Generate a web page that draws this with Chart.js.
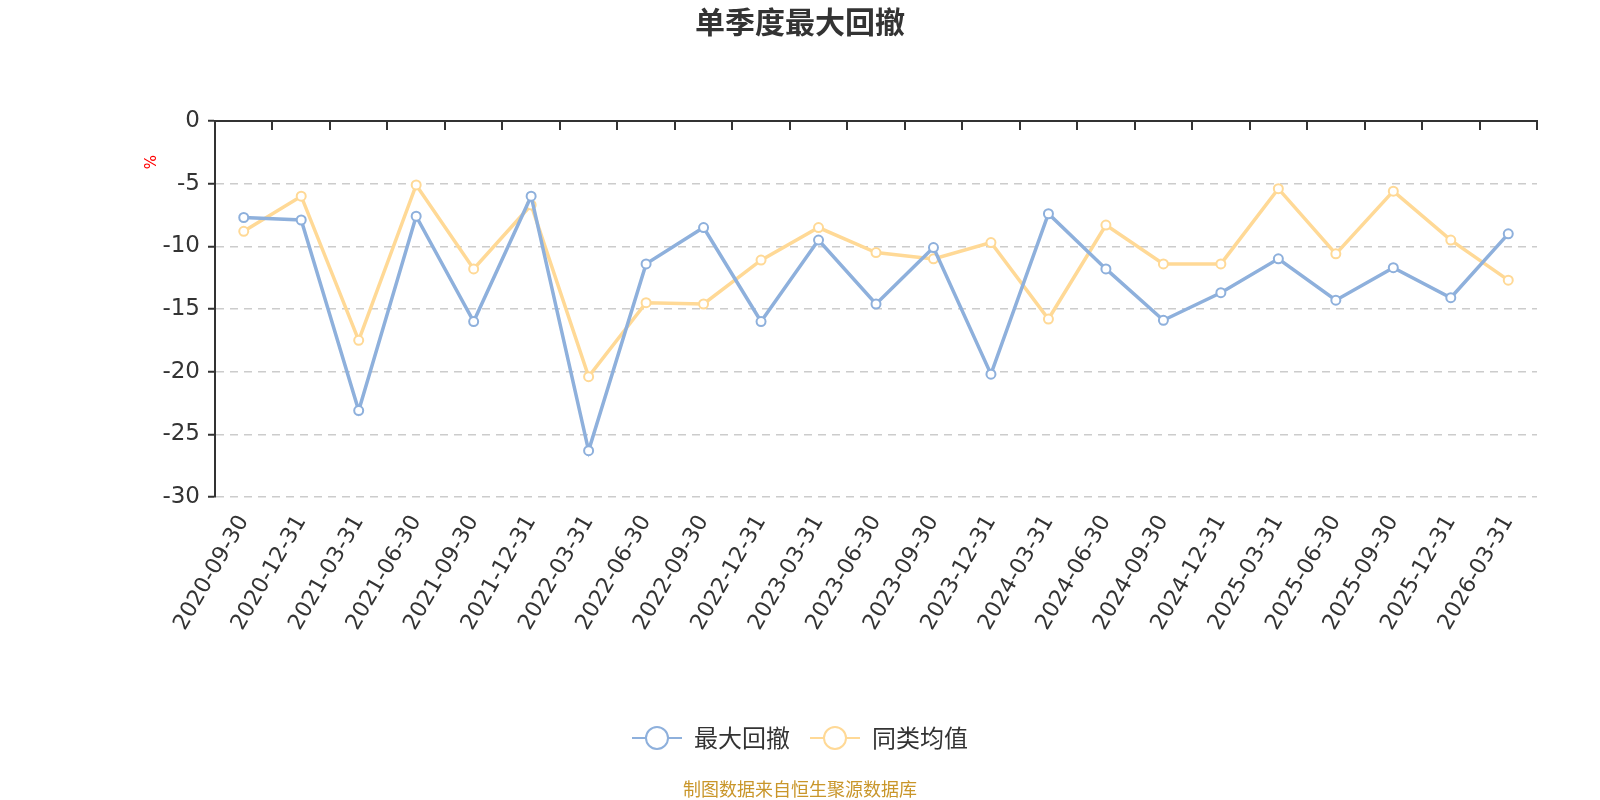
<!DOCTYPE html>
<html>
<head>
<meta charset="utf-8">
<title>单季度最大回撤</title>
<script src="https://cdn.jsdelivr.net/npm/chart.js@4.4.1/dist/chart.umd.min.js"></script>
<style>
    html, body { margin: 0; padding: 0; background: #fff; }
</style>
</head>
<body>
<canvas id="chart" width="1600" height="800"></canvas>
<script>
const quarters = [
    '2020-09-30', '2020-12-31', '2021-03-31', '2021-06-30', '2021-09-30', '2021-12-31',
    '2022-03-31', '2022-06-30', '2022-09-30', '2022-12-31', '2023-03-31', '2023-06-30',
    '2023-09-30', '2023-12-31', '2024-03-31', '2024-06-30', '2024-09-30', '2024-12-31',
    '2025-03-31', '2025-06-30', '2025-09-30', '2025-12-31', '2026-03-31'
];
const maxDrawdown = [
    -7.7, -7.9, -23.1, -7.6, -16.0, -6.0,
    -26.3, -11.4, -8.5, -16.0, -9.5, -14.6,
    -10.1, -20.2, -7.4, -11.8, -15.9, -13.7,
    -11.0, -14.3, -11.7, -14.1, -9.0
];
const peerAverage = [
    -8.8, -6.0, -17.5, -5.1, -11.8, -6.7,
    -20.4, -14.5, -14.6, -11.1, -8.5, -10.5,
    -11.0, -9.7, -15.8, -8.3, -11.4, -11.4,
    -5.4, -10.6, -5.6, -9.5, -12.7
];
const seriesNames = ['最大回撤', '同类均值'];
const seriesColors = ['#8eb0dc', '#ffd996'];
const yMin = -30;
const yMax = 0;
const yStep = 5;

const cjk = "'Noto Sans CJK SC', sans-serif";
const latin = "'DejaVu Sans', 'Noto Sans CJK SC', sans-serif";

// line + ring icon like the original legend
function legendIcon(color) {
    const c = document.createElement('canvas');
    c.width = 50;
    c.height = 26;
    const g = c.getContext('2d');
    g.strokeStyle = color;
    g.lineWidth = 2;
    g.beginPath();
    g.moveTo(0, 13);
    g.lineTo(50, 13);
    g.stroke();
    g.beginPath();
    g.arc(25, 13, 11, 0, Math.PI * 2);
    g.fillStyle = '#fff';
    g.fill();
    g.lineWidth = 2;
    g.stroke();
    return c;
}
const icons = seriesColors.map(legendIcon);

// x axis sits on y = 0 (top), with ticks between the categories pointing down
const topAxis = {
    id: 'topAxis',
    beforeDatasetsDraw(chart) {
        const {ctx, chartArea} = chart;
        const x = chart.scales.x;
        const y = chart.scales.y;
        const y0 = y.getPixelForValue(0);
        ctx.save();
        ctx.strokeStyle = '#333';
        ctx.lineWidth = 2;
        ctx.beginPath();
        ctx.moveTo(chartArea.left - 1, y0);
        ctx.lineTo(chartArea.right + 1, y0);
        for (let i = 1; i <= quarters.length; i++) {
            const px = Math.round(x.getPixelForValue(i - 0.5));
            ctx.moveTo(px, y0);
            ctx.lineTo(px, y0 + 9);
        }
        ctx.stroke();
        ctx.restore();
    },
    afterDraw(chart) {
        const {ctx, chartArea} = chart;
        ctx.save();
        ctx.fillStyle = '#ff0000';
        ctx.font = '15px ' + latin;
        ctx.translate(chartArea.left - 63, chartArea.top + 41);
        ctx.rotate(-Math.PI / 2);
        ctx.textAlign = 'center';
        ctx.textBaseline = 'middle';
        ctx.fillText('%', 0, 0);
        ctx.restore();
    }
};

function makeDataset(i, values) {
    return {
        label: seriesNames[i],
        data: values,
        borderColor: seriesColors[i],
        backgroundColor: seriesColors[i],
        borderWidth: 3.5,
        pointRadius: 4.5,
        pointBorderWidth: 2,
        pointBackgroundColor: '#fff',
        pointBorderColor: seriesColors[i],
        tension: 0
    };
}

new Chart(document.getElementById('chart'), {
    type: 'line',
    data: {
        labels: quarters,
        datasets: [makeDataset(0, maxDrawdown), makeDataset(1, peerAverage)]
    },
    options: {
        responsive: false,
        animation: false,
        layout: { padding: 0 },
        scales: {
            x: {
                type: 'category',
                offset: true,
                grid: { display: false, drawTicks: false },
                border: { display: false },
                ticks: {
                    autoSkip: false,
                    minRotation: 60,
                    maxRotation: 60,
                    padding: 14,
                    color: '#333',
                    font: { family: latin, size: 22 }
                },
                afterFit(scale) { scale.height = 209; }
            },
            y: {
                min: yMin,
                max: yMax,
                ticks: {
                    stepSize: yStep,
                    padding: 8,
                    color: '#333',
                    font: { family: latin, size: 23 }
                },
                grid: {
                    color: c => (c.tick && c.tick.value === 0) ? 'rgba(0,0,0,0)' : '#cccccc',
                    lineWidth: 1.5,
                    tickLength: 7,
                    tickColor: '#333',
                    tickWidth: 2
                },
                border: { display: true, color: '#333', width: 2, dash: [8, 6] },
                afterFit(scale) { scale.width = 215; }
            },
            // empty right-hand spacer so title and legend stay centred on the page
            spacer: {
                type: 'linear',
                position: 'right',
                display: true,
                grid: { display: false, drawTicks: false },
                border: { display: false },
                ticks: { display: false },
                afterFit(scale) { scale.width = 63; }
            }
        },
        plugins: {
            title: {
                display: true,
                text: '单季度最大回撤',
                color: '#333',
                font: { family: cjk, size: 30, weight: 'bold', lineHeight: 1.2 },
                padding: { top: 4, bottom: 81 }
            },
            subtitle: {
                display: true,
                position: 'bottom',
                text: '制图数据来自恒生聚源数据库',
                color: '#c9962a',
                font: { family: cjk, size: 18, lineHeight: 1 },
                padding: { top: 20, bottom: 2 }
            },
            legend: {
                position: 'bottom',
                labels: {
                    usePointStyle: true,
                    pointStyleWidth: 50,
                    padding: 20,
                    color: '#333',
                    font: { family: cjk, size: 24 },
                    generateLabels(chart) {
                        return chart.data.datasets.map((ds, i) => ({
                            text: ds.label,
                            pointStyle: icons[i],
                            fillStyle: 'rgba(0,0,0,0)',
                            strokeStyle: 'rgba(0,0,0,0)',
                            lineWidth: 0,
                            fontColor: '#333',
                            hidden: !chart.isDatasetVisible(i),
                            datasetIndex: i
                        }));
                    }
                }
            },
            tooltip: { enabled: false }
        }
    },
    plugins: [topAxis]
});
</script>
</body>
</html>
